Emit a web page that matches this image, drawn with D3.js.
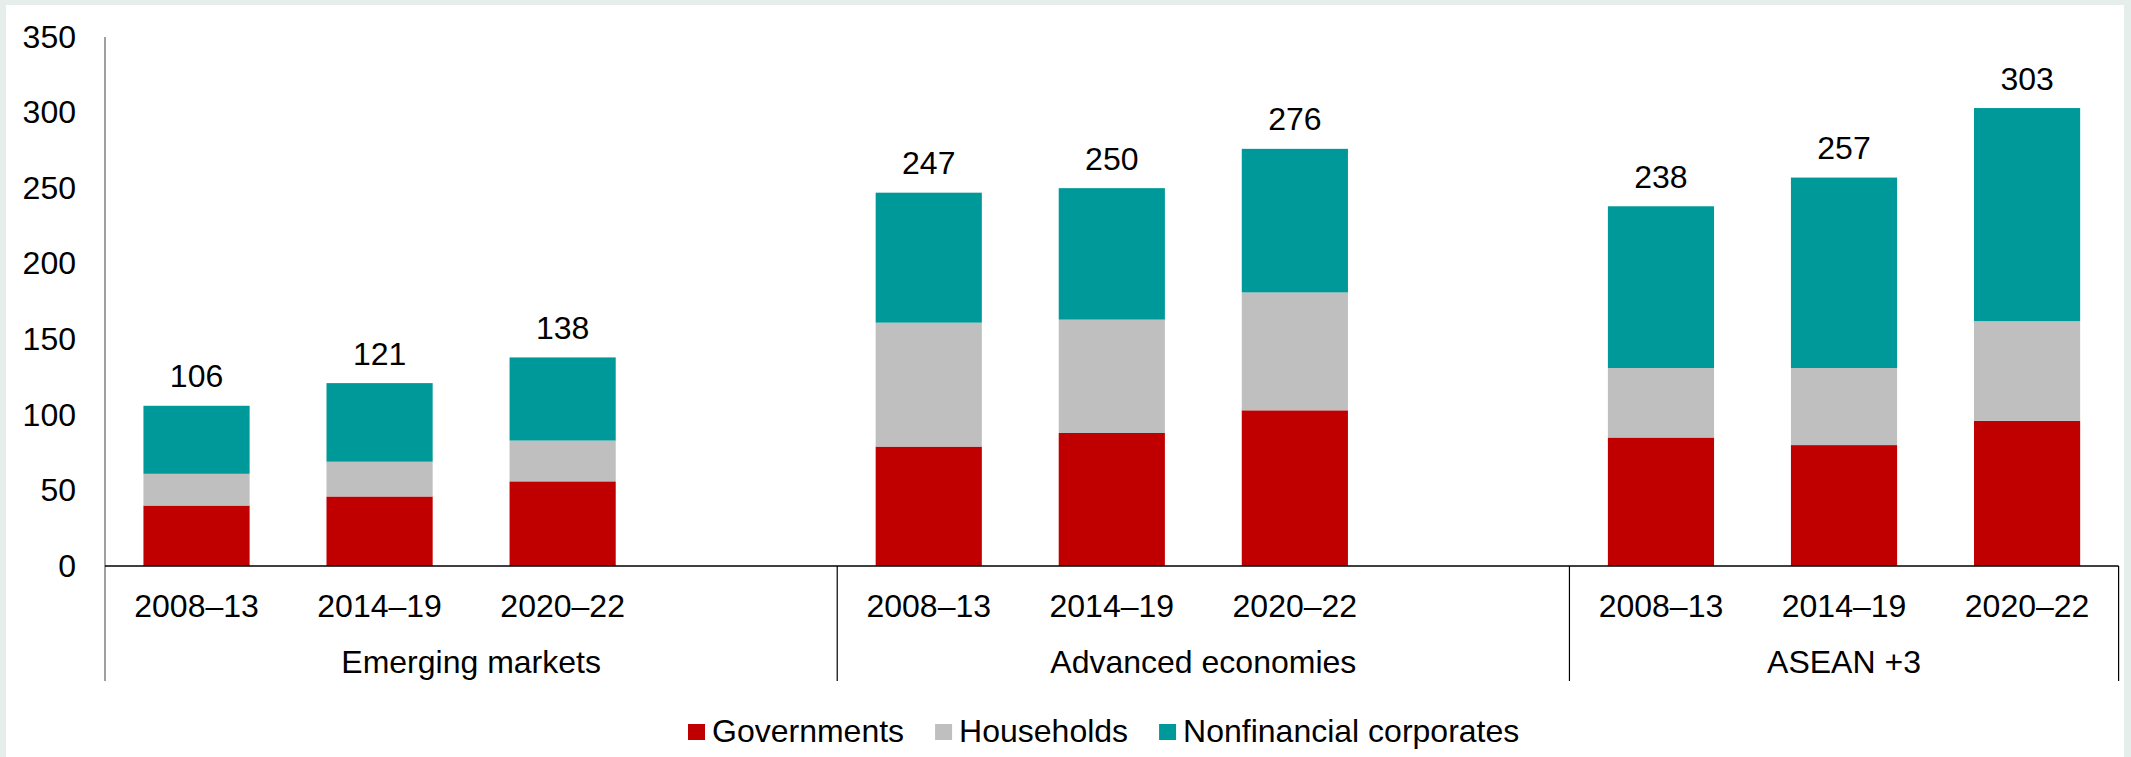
<!DOCTYPE html>
<html>
<head>
<meta charset="utf-8">
<script src="https://cdn.jsdelivr.net/npm/d3@7"></script>
<style>
  html, body { margin: 0; padding: 0; background: #e5eeea; }
  svg { display: block; }
  text { font-family: "Liberation Sans", Arial, sans-serif; fill: #000; }
</style>
</head>
<body>
<svg id="chart" width="2131" height="757"></svg>
<script>
// Debt by sector, % of GDP, period averages
const groups = ["Emerging markets", "Advanced economies", "ASEAN +3"];
const periods = ["2008–13", "2014–19", "2020–22"];
const governments = [40, 46, 56, 79, 88, 103, 85, 80, 96];
const households  = [21, 23, 27, 82, 75, 78, 46, 51, 66];
const corporates  = [45, 52, 55, 86, 87, 95, 107, 126, 141];
const seriesNames = ["Governments", "Households", "Nonfinancial corporates"];
const seriesColors = ["#c00000", "#bfbfbf", "#009999"];
const yTicks = [0, 50, 100, 150, 200, 250, 300, 350];

const width = 2131, height = 757;
const margin = { left: 105, right: 12.4, top: 37, baseline: 566 };
const fontSize = 32;

const svg = d3.select("#chart");

// white panel inside the light frame
svg.append("rect")
  .attr("x", 6).attr("y", 5)
  .attr("width", width - 13).attr("height", height - 5)
  .attr("fill", "#fff");

// one slot per bar, plus an empty slot closing each of the first two groups
const slots = [];
const rows = [];
groups.forEach((g, gi) => {
  periods.forEach((p, pi) => {
    const i = gi * periods.length + pi;
    const key = g + "|" + p;
    slots.push(key);
    rows.push({
      key, group: g, period: p,
      Governments: governments[i],
      Households: households[i],
      "Nonfinancial corporates": corporates[i]
    });
  });
  if (gi < groups.length - 1) slots.push(g + "|gap");
});

const x = d3.scaleBand()
  .domain(slots)
  .range([margin.left, width - margin.right])
  .padding(0);

const y = d3.scaleLinear()
  .domain([0, 350])
  .range([margin.baseline, margin.top]);

const barFrac = 0.58;
const bw = x.bandwidth() * barFrac;

const stacked = d3.stack().keys(seriesNames)(rows);

// stacked bars
svg.append("g").selectAll("g")
  .data(stacked)
  .join("g")
  .attr("fill", (d, i) => seriesColors[i])
  .selectAll("rect")
  .data(d => d)
  .join("rect")
  .attr("x", d => x(d.data.key) + (x.bandwidth() - bw) / 2)
  .attr("y", d => y(d[1]))
  .attr("width", bw)
  .attr("height", d => y(d[0]) - y(d[1]));

// totals above bars
const total = d => d.Governments + d.Households + d["Nonfinancial corporates"];
svg.append("g").selectAll("text")
  .data(rows)
  .join("text")
  .attr("x", d => x(d.key) + x.bandwidth() / 2)
  .attr("y", d => y(total(d)) - 18.5)
  .attr("text-anchor", "middle")
  .attr("font-size", fontSize)
  .text(d => total(d));

// y axis
const yAxis = svg.append("g")
  .attr("transform", `translate(${margin.left},0)`)
  .call(d3.axisLeft(y).tickValues(yTicks).tickSize(0).tickPadding(29));
yAxis.select(".domain").remove();
yAxis.selectAll("text")
  .attr("font-size", fontSize)
  .attr("font-family", '"Liberation Sans", Arial, sans-serif')
  .attr("fill", "#000");

const axisBottomY = 681;

// vertical axis line running down through the category area
svg.append("line")
  .attr("x1", margin.left).attr("x2", margin.left)
  .attr("y1", margin.top).attr("y2", axisBottomY)
  .attr("stroke", "#808080").attr("stroke-width", 1.5);

// baseline
svg.append("line")
  .attr("x1", margin.left).attr("x2", width - margin.right)
  .attr("y1", margin.baseline).attr("y2", margin.baseline)
  .attr("stroke", "#000").attr("stroke-width", 1.5);

// period labels
const xAxis = svg.append("g")
  .attr("transform", `translate(0,${margin.baseline})`)
  .call(d3.axisBottom(x)
    .tickValues(rows.map(r => r.key))
    .tickSize(0)
    .tickPadding(28)
    .tickFormat(k => k.split("|")[1]));
xAxis.select(".domain").remove();
xAxis.selectAll("text")
  .attr("font-size", fontSize)
  .attr("font-family", '"Liberation Sans", Arial, sans-serif')
  .attr("fill", "#000");

// group spans and separators
const groupSpans = groups.map(g => {
  const keys = slots.filter(s => s.startsWith(g + "|"));
  const x0 = x(keys[0]);
  const x1 = x(keys[keys.length - 1]) + x.bandwidth();
  return { g, x0, x1 };
});

svg.append("g").selectAll("line")
  .data(groupSpans.map(s => s.x1))
  .join("line")
  .attr("x1", d => d).attr("x2", d => d)
  .attr("y1", margin.baseline).attr("y2", axisBottomY)
  .attr("stroke", "#000").attr("stroke-width", 1.2);

svg.append("g").selectAll("text")
  .data(groupSpans)
  .join("text")
  .attr("x", d => (d.x0 + d.x1) / 2)
  .attr("y", 673)
  .attr("text-anchor", "middle")
  .attr("font-size", fontSize)
  .text(d => d.g);

// legend
const legendItems = seriesNames.map((n, i) => ({ n, c: seriesColors[i] }));
const legend = svg.append("g").attr("transform", "translate(0,742)");
let lx = 688;
legendItems.forEach(item => {
  legend.append("rect")
    .attr("x", lx).attr("y", -18)
    .attr("width", 17).attr("height", 16)
    .attr("fill", item.c);
  const t = legend.append("text")
    .attr("x", lx + 24).attr("y", 0)
    .attr("font-size", fontSize)
    .text(item.n);
  lx += 24 + t.node().getComputedTextLength() + 31;
});
</script>
</body>
</html>
